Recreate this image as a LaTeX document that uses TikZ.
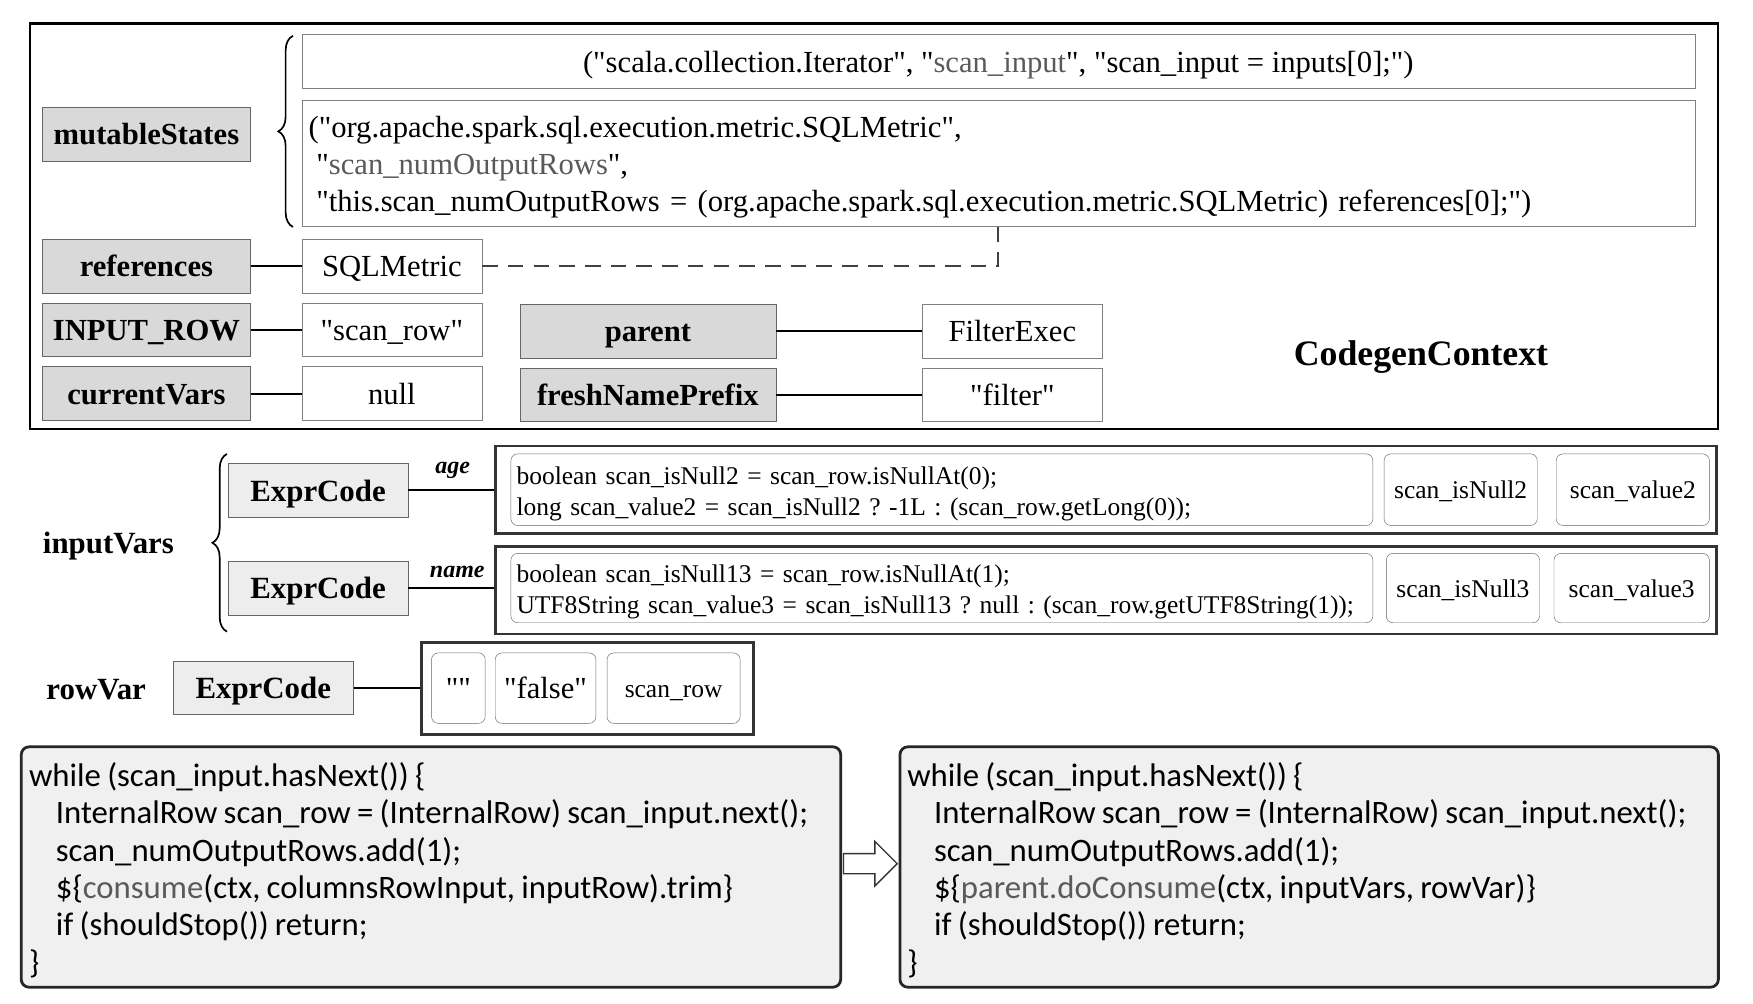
\documentclass[tikz,border=0pt]{standalone}
\usepackage{fontspec}
\setmainfont{Liberation Serif}[Ligatures=TeXOff]
\newfontfamily\codefont{Carlito}
\usepackage{xcolor}
\definecolor{hlgray}{HTML}{5A5A5A}
\usetikzlibrary{positioning,calc,decorations.pathreplacing}
\newcommand{\hl}[1]{{\color{hlgray}#1}}
\newcommand{\codesp}{\spaceskip=5.6pt\relax\xspaceskip=5.6pt\relax}
\frenchspacing

\begin{document}
\begin{tikzpicture}[x=1pt,y=-1pt,
  oneline/.style={text height=#1, text depth=0pt},
  keybox/.style={draw=black!60, fill=black!15, font=\fontsize{27.4}{33}\selectfont\bfseries,
    minimum width=186pt, minimum height=48pt, inner sep=0pt, oneline=19.2pt},
  valbox/.style={draw=black!50, font=\fontsize{27.4}{33}\selectfont,
    minimum width=161pt, minimum height=48pt, inner sep=0pt, oneline=19.2pt},
  exprbox/.style={draw=black!60, fill=black!7, font=\fontsize{27.6}{33}\selectfont\bfseries,
    minimum width=161pt, minimum height=48pt, inner sep=0pt, oneline=19.3pt},
  slot/.style={draw=black!60, rounded corners=6pt, font=\fontsize{22.8}{28}\selectfont,
    minimum height=64pt, minimum width=137pt, inner sep=0pt},
  group/.style={draw=black!80, line width=2.5pt, inner sep=0pt},
  codebox/.style={draw=black!85, line width=2.5pt, fill=black!6, rounded corners=7pt,
    inner sep=0pt, minimum width=733pt, minimum height=215pt, text width=719pt, align=left,
    font=\codefont\fontsize{29.3}{33.4}\selectfont},
  label/.style={font=\fontsize{27.6}{33}\selectfont\bfseries, oneline=19.3pt},
  field/.style={font=\fontsize{21.5}{25}\selectfont\bfseries\itshape},
  link/.style={line width=1.8pt},
  curly/.style={decorate, decoration={brace, amplitude=13pt}, line width=1.5pt}]
  \useasboundingbox (0,0) rectangle (1568,898);

  % CodegenContext
  \node[draw, line width=2pt, minimum width=1510pt, minimum height=363pt, inner sep=0pt]
    (ctx) at (782,202.5) {};
  \node[font=\fontsize{32}{38}\selectfont\bfseries, oneline=22.4pt] (ctxname) at (1271,316) {CodegenContext};

  \node[keybox] (mutable) at (131,120) {mutableStates};
  \node[valbox, minimum width=1246pt] (st1) at (893,55)
    {("scala.collection.Iterator", "\hl{scan\_input}", "scan\_input = inputs[0];")};
  \node[valbox, minimum width=1246pt, minimum height=112pt, text width=1234pt, align=left,
    font=\fontsize{27.4}{33.5}\selectfont, text height=, text depth=] (st2) at (893,146)
    {\rule{0pt}{26pt}("org.apache.spark.sql.execution.metric.SQLMetric",\\
     \hspace*{7pt}"\hl{scan\_numOutputRows}",\\
     \hspace*{7pt}"this.scan\_numOutputRows = (org.apache.spark.sql.execution.metric.SQLMetric) references[0];")};
  \draw[curly] (262,203) -- (262,32);

  \node[keybox] (refs) at (131,238) {references};
  \node[valbox] (sqlm) at (350.5,238) {SQLMetric};
  \node[keybox] (inrow) at (131,295) {INPUT\_ROW};
  \node[valbox] (scanrow) at (350.5,295) {"scan\_row"};
  \node[keybox] (curvars) at (131,352) {currentVars};
  \node[valbox] (nullv) at (350.5,352) {null};
  \node[keybox, minimum width=229pt] (parent) at (579.5,296) {parent};
  \node[valbox] (filterexec) at (905.5,296) {FilterExec};
  \node[keybox, minimum width=229pt] (fresh) at (579.5,353) {freshNamePrefix};
  \node[valbox] (filterstr) at (905.5,353) {"filter"};

  \draw[link] (refs) -- (sqlm);
  \draw[link] (inrow) -- (scanrow);
  \draw[link] (curvars) -- (nullv);
  \draw[link] (parent) -- (filterexec);
  \draw[link] (fresh) -- (filterstr);
  \draw[line width=1.6pt, black!75, dash pattern=on 14pt off 9pt] (sqlm.east) -| (st2.south);

  % inputVars
  \node[label] (inputvars) at (97,485) {inputVars};
  \draw[curly] (203,565) -- (203,406);
  \node[exprbox] (ec1) at (284.5,438.5) {ExprCode};
  \node[group, minimum width=1092pt, minimum height=78pt] (ev1) at (989,438) {};
  \node[slot, minimum width=771pt, text width=761pt, align=left] (code1) at (842.5,438)
    {\rule{0pt}{23pt}boolean scan\_isNull2 = scan\_row.isNullAt(0);\\
     long scan\_value2 = scan\_isNull2 ? -1L : (scan\_row.getLong(0));};
  \node[slot, oneline=16pt] (isnull2) at (1306.5,438) {scan\_isNull2};
  \node[slot, oneline=16pt] (value2) at (1460.5,438) {scan\_value2};
  \draw[link] (ec1.east) -- (ec1.east -| ev1.west);
  \node[field] (age) at (405,421) {age};

  \node[exprbox] (ec2) at (284.5,526) {ExprCode};
  \node[group, minimum width=1092pt, minimum height=78pt] (ev2) at (989,528) {};
  \node[slot, minimum width=771pt, minimum height=62pt, text width=761pt, align=left] (code2) at (842.5,526)
    {\rule{0pt}{23pt}boolean scan\_isNull13 = scan\_row.isNullAt(1);\\
     UTF8String scan\_value3 = scan\_isNull13 ? null : (scan\_row.getUTF8String(1));};
  \node[slot, oneline=16pt, minimum height=62pt] (isnull3) at (1308.5,526) {scan\_isNull3};
  \node[slot, oneline=16pt, minimum height=62pt, minimum width=139pt] (value3) at (1459.5,526) {scan\_value3};
  \draw[link] (ec2.east) -- (ec2.east -| ev2.west);
  \node[field] (name) at (409,512) {name};

  % rowVar
  \node[label] (rowvar) at (86,616) {rowVar};
  \node[exprbox] (ec3) at (235.5,615) {ExprCode};
  \node[group, minimum width=297pt, minimum height=82pt] (rv) at (525.5,616) {};
  \node[slot, oneline=19.2pt, minimum width=48pt, minimum height=63pt, font=\fontsize{27.4}{33}\selectfont] (emptystr) at (410,615.5) {""};
  \node[slot, oneline=19.2pt, minimum width=90pt, minimum height=63pt, font=\fontsize{27.4}{33}\selectfont] (falsestr) at (488,615.5) {"false"};
  \node[slot, oneline=16pt, minimum width=119pt, minimum height=63pt] (srow) at (602.5,615.5) {scan\_row};
  \draw[link] (ec3.east) -- (ec3.east -| rv.west);

  % generated code
  \node[codebox] (codeL) at (385.5,775.5)
    {\codesp\rule{0pt}{27pt}while (scan\_input.hasNext()) \{\\
     \hspace*{24pt}InternalRow scan\_row = (InternalRow) scan\_input.next();\\
     \hspace*{24pt}scan\_numOutputRows.add(1);\\
     \hspace*{24pt}\$\{\hl{consume}(ctx, columnsRowInput, inputRow).trim\}\\
     \hspace*{24pt}if (shouldStop()) return;\\
     \}};
  \node[codebox, minimum width=732pt] (codeR) at (1171,775.5)
    {\codesp\rule{0pt}{27pt}while (scan\_input.hasNext()) \{\\
     \hspace*{24pt}InternalRow scan\_row = (InternalRow) scan\_input.next();\\
     \hspace*{24pt}scan\_numOutputRows.add(1);\\
     \hspace*{24pt}\$\{\hl{parent.doConsume}(ctx, inputVars, rowVar)\}\\
     \hspace*{24pt}if (shouldStop()) return;\\
     \}};
  \coordinate (arr) at ($(codeL.east)!0.5!(codeR.west)+(0,-3)$);
  \draw[line width=1.2pt, black!80, fill=white] ($(arr)+(-24,-9)$) -- ++(28,0) -- ++(0,-11)
    -- ++(20,20) -- ++(-20,20) -- ++(0,-11) -- ++(-28,0) -- cycle;
\end{tikzpicture}
\end{document}
